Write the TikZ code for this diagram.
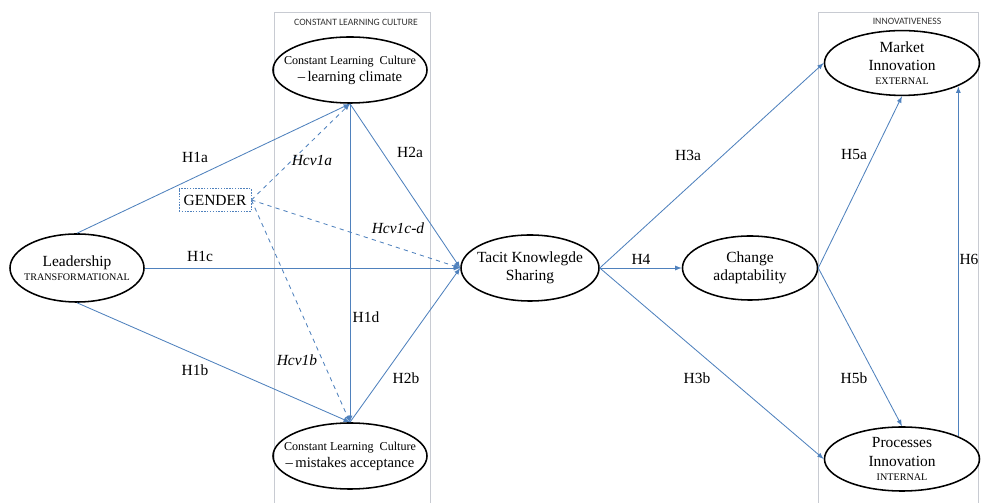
\documentclass[tikz,border=0pt]{standalone}
\usepackage{fontspec}
\setmainfont{Liberation Serif}
\newfontfamily\headfont{Carlito}
\usetikzlibrary{shapes.geometric,arrows}
\tikzset{>=latex}
\definecolor{linkblue}{RGB}{79,129,189}
\definecolor{framegray}{RGB}{200,203,210}
\definecolor{headgray}{RGB}{50,50,50}
\tikzset{
  construct/.style={draw,ellipse,line width=1.1pt,inner xsep=-25pt,inner ysep=-12pt,
    align=center,font=\fontsize{11}{13}\selectfont},
  link/.style={->,draw=linkblue,line width=0.6pt},
  control/.style={->,draw=linkblue,line width=0.6pt,dashed},
  hyp/.style={font=\fontsize{11}{13}\selectfont},
  cvhyp/.style={font=\fontsize{11}{13}\selectfont\itshape},
  blockhead/.style={font=\headfont\fontsize{6.9}{8}\selectfont,text=headgray},
  frame/.style={draw=framegray,line width=0.6pt}
}
\newcommand{\smalltext}[1]{{\fontsize{8.6}{10}\selectfont #1}}
\newcommand{\tinycaps}[1]{{\fontsize{7.2}{8}\selectfont #1}}
\newcommand{\dashline}[1]{{\fontsize{10.4}{12}\selectfont --\,#1}}

\begin{document}
\begin{tikzpicture}[x=0.025cm,y=-0.025cm]
  \useasboundingbox (0,0) rectangle (981,503);

  % Blocks
  \draw[frame] (274,503) -- (274,12) -- (430,12) -- (430,503);
  \draw[frame] (818,503) -- (818,12) -- (978,12) -- (978,503);
  \node[blockhead] (clchead) at (356,22) {CONSTANT LEARNING CULTURE};
  \node[blockhead] (innohead) at (907,21) {INNOVATIVENESS};

  % Constructs
  \node[construct,minimum width=3.35cm,minimum height=1.7cm] (lead) at (77,268)
    {Leadership\\[-3pt]\tinycaps{TRANSFORMATIONAL}};
  \node[construct,minimum width=3.85cm,minimum height=1.65cm] (climate) at (350,70)
    {\smalltext{Constant Learning\ \ Culture}\\[-1pt]\dashline{learning climate}};
  \node[construct,minimum width=3.85cm,minimum height=1.65cm] (mistakes) at (350,456)
    {\smalltext{Constant Learning\ \ Culture}\\[-1pt]\dashline{mistakes acceptance}};
  \node[construct,minimum width=3.45cm,minimum height=1.65cm] (tacit) at (530,268)
    {Tacit Knowlegde\\Sharing};
  \node[construct,minimum width=3.375cm,minimum height=1.6cm] (change) at (750,268)
    {Change\\adaptability};
  \node[construct,minimum width=3.875cm,minimum height=1.62cm] (market) at (902,63)
    {Market\\Innovation\\[-3pt]\tinycaps{EXTERNAL}};
  \node[construct,minimum width=3.875cm,minimum height=1.6cm] (process) at (902,459)
    {Processes\\Innovation\\[-3pt]\tinycaps{INTERNAL}};
  \node[draw=linkblue,dash pattern=on 1pt off 1pt,line width=0.5pt,minimum width=1.75cm,
    minimum height=0.57cm,font=\fontsize{11}{13}\selectfont] (gender) at (215,200) {GENDER};

  % Lines
  \draw[link] (lead.north) -- (climate.south);
  \draw[link] (lead.south) -- (mistakes.north);
  \draw[link] (lead.east) -- (tacit.west);
  \draw[link] (climate.south) -- (mistakes.north);
  \draw[link] (climate.south) -- (tacit.west);
  \draw[link] (mistakes.north) -- (tacit.west);
  \draw[control] (gender.east) -- (climate.south);
  \draw[control] (gender.east) -- (mistakes.north);
  \draw[control] (gender.east) -- (tacit.west);
  \draw[link] (tacit.east) -- (market.west);
  \draw[link] (tacit.east) -- (process.west);
  \draw[link] (tacit.east) -- (change.west);
  \draw[link] (change.east) -- (market.south);
  \draw[link] (change.east) -- (process.north);
  \draw[link] (process.22) -- (process.22 |- market.-23);

  % Labels
  \node[hyp] (h1a) at (195,157) {H1a};
  \node[hyp] (h1b) at (195,370) {H1b};
  \node[hyp] (h1c) at (200,256) {H1c};
  \node[hyp] (h1d) at (366,317) {H1d};
  \node[hyp] (h2a) at (410,152) {H2a};
  \node[hyp] (h2b) at (406,378) {H2b};
  \node[cvhyp] (hcv1a) at (312,160) {Hcv1a};
  \node[cvhyp] (hcv1b) at (297,360) {Hcv1b};
  \node[cvhyp] (hcv1cd) at (398,228) {Hcv1c-d};
  \node[hyp] (h3a) at (688,155) {H3a};
  \node[hyp] (h3b) at (697,378) {H3b};
  \node[hyp] (h4) at (641,259) {H4};
  \node[hyp] (h5a) at (854,155) {H5a};
  \node[hyp] (h5b) at (854,378) {H5b};
  \node[hyp] (h6) at (969,259) {H6};
\end{tikzpicture}
\end{document}
